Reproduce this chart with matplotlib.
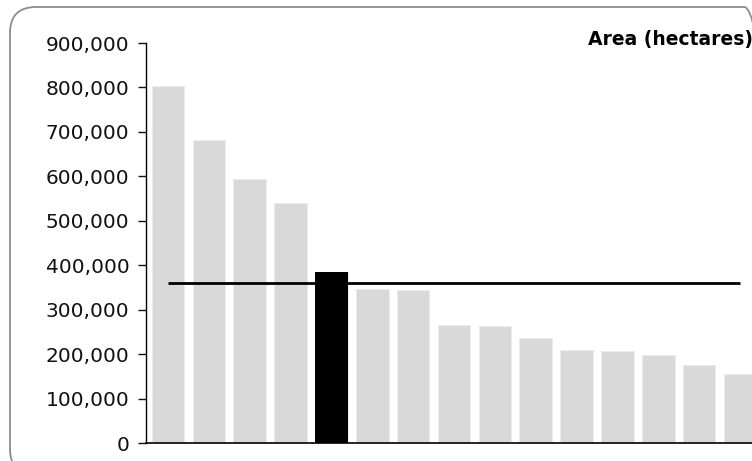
#!/usr/bin/env python3
"""Area (hectares) bar chart with one highlighted bar and an average line."""

import matplotlib

matplotlib.use("Agg")
import matplotlib.pyplot as plt
from matplotlib.patches import FancyBboxPatch
from matplotlib.ticker import FuncFormatter

# values (hectares)
areas = [804000, 682000, 595000, 540000, 385000, 347000, 345000, 266000,
         263000, 236000, 209000, 207000, 198000, 176000, 155000]
highlight = 4
average = 360000
yticks = [0, 100000, 200000, 300000, 400000, 500000, 600000, 700000, 800000, 900000]

W, H, DPI = 752, 461, 100
fig = plt.figure(figsize=(W / DPI, H / DPI), dpi=DPI)

# rounded frame, runs off the right and bottom edges
frame = FancyBboxPatch(
    (10, -14), 760, 468,
    boxstyle="round,pad=0,rounding_size=26",
    transform=None, facecolor="none", edgecolor="#8c8c8c", linewidth=1.3,
    zorder=-1,
)
fig.patches.append(frame)

# axes spills over the right edge like the source
left_px, bottom_px, top_px = 146, 443, 43
slot = 40.85
x0 = -0.54
x1 = len(areas) - 0.5
right_px = left_px + (x1 - x0) * slot
ax = fig.add_axes([
    left_px / W, 1 - bottom_px / H,
    (right_px - left_px) / W, (bottom_px - top_px) / H,
])
ax.patch.set_alpha(0)

x = list(range(len(areas)))
colors = ["#d9d9d9"] * len(areas)
ax.bar(x, areas, width=0.8, color=colors, edgecolor="#ececec", linewidth=0.6, zorder=2)
ax.bar([highlight], [areas[highlight]], width=0.8, color="black", zorder=4)
ax.plot([x[0], x[-1]], [average, average], color="black", linewidth=2, zorder=3,
        solid_capstyle="butt")

ax.set_xlim(x0, x1)
ax.set_ylim(0, 900000)
ax.set_yticks(yticks)
ax.yaxis.set_major_formatter(FuncFormatter(lambda v, _: f"{int(v):,}"))
ax.tick_params(axis="y", direction="out", length=6, width=1, labelsize=14.5, pad=6,
               colors="#111111")
ax.tick_params(axis="x", bottom=False, labelbottom=False)
for side in ("top", "right"):
    ax.spines[side].set_visible(False)
ax.spines["left"].set_linewidth(1)
ax.spines["bottom"].set_linewidth(1.2)

fig.text(753 / W, 1 - 30 / H, "Area (hectares)", ha="right", va="top",
         fontsize=13.5, fontweight="bold")

fig.savefig("out.png", dpi=DPI)
plt.close(fig)
